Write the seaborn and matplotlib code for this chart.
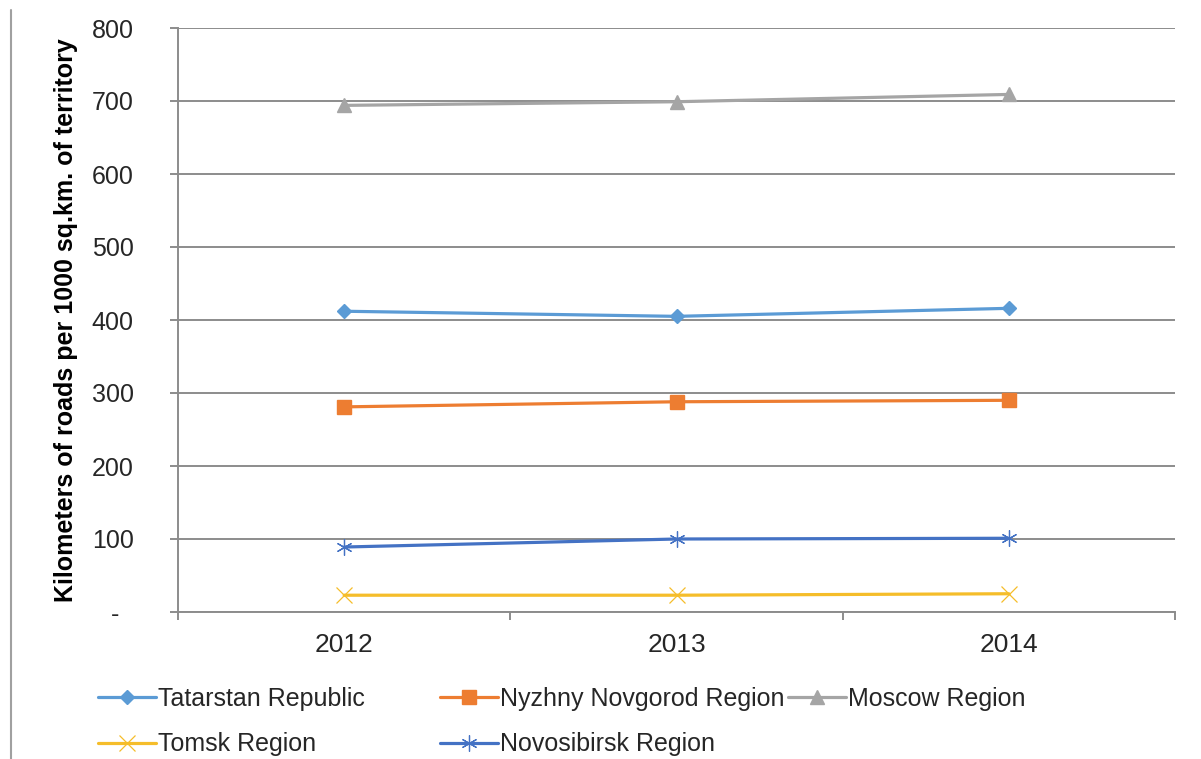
import numpy as np
import pandas as pd
import seaborn as sns
import matplotlib.pyplot as plt
from matplotlib.lines import Line2D

# data
years = ['2012', '2013', '2014']
tatarstan = [412, 405, 416]
nyzhny = [281, 288, 290]
moscow = [694, 699, 709]
tomsk = [23, 23, 25]
novosibirsk = [89, 100, 101]

names = ['Tatarstan Republic', 'Nyzhny Novgorod Region', 'Moscow Region',
         'Tomsk Region', 'Novosibirsk Region']
y_ticks = [0, 100, 200, 300, 400, 500, 600, 700, 800]
y_ticklabels = ['-  ', '100', '200', '300', '400', '500', '600', '700', '800']

colors = ['#5B9BD5', '#ED7D31', '#A5A5A5', '#F5BD2A', '#4472C4']
markers = ['D', 's', '^', 'x', (6, 2, 0)]
msizes = [7, 9.5, 9.5, 11.5, 11.5]
mews = [1, 1, 1, 0.9, 0.9]

sns.set_theme(style='white')
plt.rcParams['font.family'] = ['Liberation Sans', 'DejaVu Sans']

grid_col = '#8C8C8C'
text_col = '#262626'

fig = plt.figure(figsize=(12.01, 7.59), dpi=100)
ax = fig.add_axes([178 / 1201, 1 - 612 / 759, (1175 - 178) / 1201, (612 - 28) / 759])

series = [tatarstan, nyzhny, moscow, tomsk, novosibirsk]
handles = []
for name, vals, c, m, ms, mew in zip(names, series, colors, markers, msizes, mews):
    df = pd.DataFrame({'year': years, 'value': vals})
    sns.lineplot(data=df, x='year', y='value', ax=ax, color=c, marker=m,
                 markersize=ms, mec=c, mfc=c, mew=mew, lw=2.3, label=name,
                 legend=False, zorder=3)
    handles.append(ax.lines[-1])

ax.set_xlim(-0.5, 2.5)
ax.set_ylim(0, 800)
ax.set_yticks(y_ticks)
ax.set_yticklabels(y_ticklabels)
ax.set_xticks(range(len(years)))
ax.set_xticklabels(years)
ax.set_xticks([-0.5, 0.5, 1.5, 2.5], minor=True)

ax.yaxis.grid(True, color=grid_col, lw=1.4)
ax.set_axisbelow(True)
for s in ['top', 'right']:
    ax.spines[s].set_visible(False)
for s in ['left', 'bottom']:
    ax.spines[s].set_color(grid_col)
    ax.spines[s].set_linewidth(1.4)

ax.tick_params(axis='y', which='major', left=True, length=6, width=1.4,
               color=grid_col, pad=26, labelsize=18, labelcolor=text_col)
ax.tick_params(axis='x', which='major', bottom=False, length=0, pad=15,
               labelsize=19, labelcolor=text_col)
ax.tick_params(axis='x', which='minor', bottom=True, length=6, width=1.4,
               color=grid_col)

ax.set_xlabel('')
ax.set_ylabel('Kilometers of roads per 1000 sq.km. of territory',
              fontsize=18, fontweight='bold', color='black')
ax.yaxis.set_label_coords((78 - 178) / 997, 0.5)

# legend laid out in three columns like the original
cols = [[0, 3], [1, 4], [2]]
xs = [98, 440, 788]
for idx, x in zip(cols, xs):
    leg = fig.legend(handles=[handles[i] for i in idx], labels=[names[i] for i in idx],
                     loc='upper left', bbox_to_anchor=(x / 1201, 1 - 687 / 759),
                     frameon=False, fontsize=18, handlelength=2.3,
                     handletextpad=0.1, borderpad=0, borderaxespad=0,
                     labelspacing=0.85)
    for t in leg.get_texts():
        t.set_color(text_col)

fig.add_artist(Line2D([11 / 1201, 11 / 1201], [0, 1 - 10 / 759], color='#A0A0A0', lw=1.5))

fig.savefig('out.png', dpi=100)
